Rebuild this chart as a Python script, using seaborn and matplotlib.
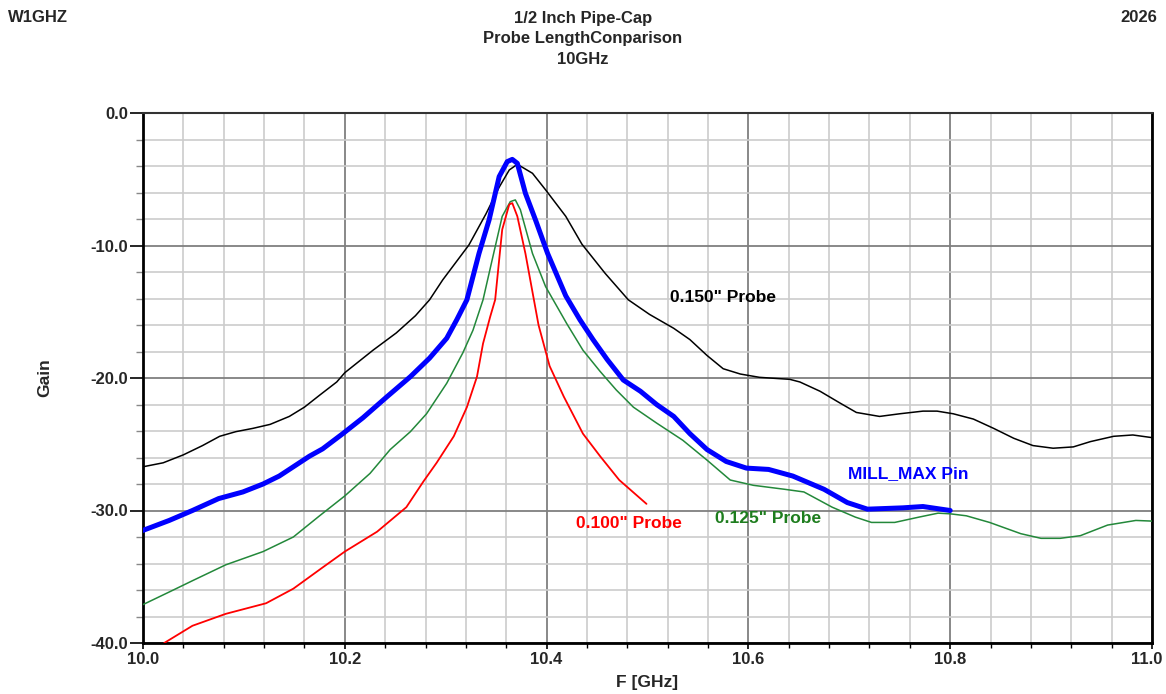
import numpy as np
import pandas as pd
import matplotlib
matplotlib.use("Agg")
import matplotlib.pyplot as plt
import matplotlib.transforms as mtransforms
from matplotlib.ticker import MultipleLocator, FormatStrFormatter
import seaborn as sns

# ── Data ────────────────────────────────────────────────
probe_150_f = [10.0, 10.02, 10.04, 10.059, 10.076, 10.092, 10.109, 10.126, 10.145,
               10.16, 10.175, 10.192, 10.2, 10.228, 10.251, 10.27, 10.284, 10.297,
               10.323, 10.34, 10.353, 10.363, 10.371, 10.386, 10.399, 10.419, 10.435,
               10.458, 10.481, 10.502, 10.526, 10.542, 10.559, 10.575, 10.592, 10.611,
               10.641, 10.651, 10.671, 10.691, 10.707, 10.73, 10.75, 10.773, 10.787,
               10.803, 10.823, 10.843, 10.863, 10.882, 10.902, 10.922, 10.939, 10.962,
               10.981, 11.0]
probe_150_g = [-26.7, -26.4, -25.8, -25.1, -24.4, -24.05, -23.8, -23.5, -22.9,
               -22.2, -21.3, -20.3, -19.6, -17.9, -16.6, -15.3, -14.1, -12.6,
               -9.96, -7.6, -5.6, -4.3, -3.87, -4.55, -5.8, -7.8, -9.9,
               -12.1, -14.1, -15.2, -16.25, -17.1, -18.3, -19.3, -19.7, -19.95,
               -20.1, -20.3, -21.0, -21.9, -22.6, -22.9, -22.7, -22.5, -22.5,
               -22.7, -23.1, -23.8, -24.55, -25.1, -25.3, -25.2, -24.8, -24.4,
               -24.3, -24.5]

millmax_f = [10.0, 10.026, 10.049, 10.075, 10.099, 10.119, 10.135, 10.149, 10.165,
             10.178, 10.198, 10.218, 10.242, 10.265, 10.284, 10.301, 10.311, 10.321,
             10.333, 10.343, 10.353, 10.361, 10.366, 10.371, 10.379, 10.389, 10.401,
             10.419, 10.433, 10.446, 10.46, 10.476, 10.493, 10.509, 10.526, 10.542,
             10.559, 10.578, 10.598, 10.62, 10.644, 10.675, 10.698, 10.718, 10.753,
             10.773, 10.8]
millmax_g = [-31.5, -30.75, -30.0, -29.1, -28.6, -28.0, -27.4, -26.7, -25.9,
             -25.35, -24.2, -23.0, -21.4, -19.9, -18.5, -17.0, -15.6, -14.1,
             -10.6, -8.07, -4.8, -3.67, -3.5, -3.8, -6.06, -8.07, -10.6,
             -13.8, -15.6, -17.1, -18.6, -20.15, -21.0, -22.0, -22.9, -24.2,
             -25.4, -26.3, -26.8, -26.9, -27.4, -28.4, -29.4, -29.9, -29.8,
             -29.7, -30.0]

probe_125_f = [10.0, 10.026, 10.049, 10.082, 10.119, 10.149, 10.175, 10.2, 10.225,
               10.245, 10.265, 10.281, 10.301, 10.317, 10.327, 10.337, 10.346, 10.356,
               10.364, 10.369, 10.374, 10.386, 10.399, 10.42, 10.436, 10.453, 10.469,
               10.486, 10.509, 10.535, 10.559, 10.582, 10.605, 10.636, 10.655, 10.683,
               10.706, 10.722, 10.745, 10.769, 10.788, 10.8, 10.816, 10.839, 10.87,
               10.89, 10.909, 10.929, 10.956, 10.984, 11.0]
probe_125_g = [-37.1, -36.15, -35.3, -34.1, -33.1, -32.0, -30.4, -28.9, -27.2,
               -25.4, -24.05, -22.7, -20.4, -18.1, -16.4, -14.1, -11.1, -7.8,
               -6.69, -6.56, -7.3, -10.6, -13.1, -15.9, -17.9, -19.5, -20.9,
               -22.2, -23.4, -24.7, -26.2, -27.7, -28.1, -28.4, -28.6, -29.75,
               -30.5, -30.9, -30.9, -30.5, -30.2, -30.25, -30.4, -30.9, -31.75,
               -32.1, -32.1, -31.9, -31.1, -30.75, -30.8]

probe_100_f = [10.021, 10.049, 10.082, 10.122, 10.149, 10.178, 10.2, 10.232, 10.261,
               10.278, 10.291, 10.308, 10.321, 10.331, 10.337, 10.344, 10.349, 10.356,
               10.363, 10.366, 10.371, 10.379, 10.392, 10.403, 10.417, 10.436, 10.453,
               10.472, 10.499]
probe_100_g = [-40.0, -38.7, -37.8, -37.0, -35.9, -34.3, -33.1, -31.6, -29.75,
               -27.8, -26.4, -24.4, -22.2, -19.9, -17.4, -15.4, -14.1, -8.8,
               -6.9, -6.8, -7.8, -10.6, -16.0, -19.1, -21.4, -24.2, -25.9,
               -27.7, -29.5]

series_names = ['0.150" Probe', 'MILL_MAX Pin', '0.125" Probe', '0.100" Probe']
series_colors = ["black", "#0000ff", "#23883a", "#ff0000"]
series_widths = [1.1, 3.6, 1.1, 1.3]
label_pos = [(10.522, -13.96), (10.699, -27.25), (10.567, -30.6), (10.429, -31.0)]
label_colors = ["black", "#0000ff", "#1e7d1e", "#ff0000"]
# ────────────────────────────────────────────────────────

sns.set_style("white")
plt.rcParams["font.family"] = ["Liberation Sans", "DejaVu Sans"]

fig = plt.figure(figsize=(11.66, 6.94), dpi=100)
ax = fig.add_axes([143 / 1166, 1 - 643 / 694, 1009 / 1166, 530 / 694])

curves = [(probe_150_f, probe_150_g), (millmax_f, millmax_g),
          (probe_125_f, probe_125_g), (probe_100_f, probe_100_g)]
for (f, g), name, col, lw in zip(curves, series_names, series_colors, series_widths):
    df = pd.DataFrame({"F": f, "Gain": g})
    sns.lineplot(data=df, x="F", y="Gain", color=col, lw=lw, ax=ax,
                 sort=False, estimator=None, zorder=3)

for name, (x, y), col in zip(series_names, label_pos, label_colors):
    ax.text(x, y, name, color=col, fontsize=12.5, fontweight="bold",
            ha="left", va="center", zorder=4)

ax.set_xlim(10.0, 11.0)
ax.set_ylim(-40, 0)
ax.xaxis.set_major_locator(MultipleLocator(0.2))
ax.xaxis.set_minor_locator(MultipleLocator(0.04))
ax.yaxis.set_major_locator(MultipleLocator(10))
ax.yaxis.set_minor_locator(MultipleLocator(2))
ax.xaxis.set_major_formatter(FormatStrFormatter("%.1f"))
ax.yaxis.set_major_formatter(FormatStrFormatter("%.1f"))

ax.grid(which="minor", color="#cccccc", lw=1.2, zorder=0)
ax.grid(which="major", color="#7f7f7f", lw=1.3, zorder=1)
ax.set_axisbelow(True)

ax.tick_params(axis="y", which="major", direction="out", length=9.5, width=1.2,
               color="black", labelsize=12, pad=1, left=True)
ax.tick_params(axis="y", which="minor", direction="out", length=5, width=1,
               color="#888888", left=True)
ax.tick_params(axis="x", which="major", direction="out", length=4.5, width=1.2,
               color="black", labelsize=12, pad=2, bottom=True)
ax.tick_params(axis="x", which="minor", direction="out", length=3.5, width=1,
               color="black", bottom=True)

for side in ["left", "bottom", "right"]:
    ax.spines[side].set_color("black")
    ax.spines[side].set_linewidth(2)
ax.spines["top"].set_color("#333333")
ax.spines["top"].set_linewidth(1.5)

ax.set_xlabel("")
ax.set_ylabel("")
fig.text(45 / 1166, 1 - 378 / 694, "Gain", rotation=90, fontsize=12.5,
         fontweight="bold", ha="center", va="center")
fig.text(647 / 1166, 1 - 683 / 694, "F [GHz]", fontsize=12.5,
         fontweight="bold", ha="center", va="center")

fig.text(583 / 1166, 1 - 19 / 694, "1/2 Inch Pipe-Cap", fontsize=12,
         fontweight="bold", ha="center", va="center")
fig.text(583 / 1166, 1 - 39 / 694, "Probe LengthConparison", fontsize=12,
         fontweight="bold", ha="center", va="center")
fig.text(583 / 1166, 1 - 59 / 694, "10GHz", fontsize=12,
         fontweight="bold", ha="center", va="center")
fig.text(8 / 1166, 1 - 18 / 694, "W1GHZ", fontsize=12,
         fontweight="bold", ha="left", va="center")
fig.text(1157 / 1166, 1 - 18 / 694, "2026", fontsize=12,
         fontweight="bold", ha="right", va="center")

# bold tick labels; nudge the 11.0 label in from the figure edge
fig.canvas.draw()
for lab in ax.get_xticklabels() + ax.get_yticklabels():
    lab.set_fontweight("bold")
for tick in ax.xaxis.get_major_ticks():
    if abs(tick.get_loc() - 11.0) < 1e-6:
        tick.label1.set_transform(tick.label1.get_transform() +
                                  mtransforms.ScaledTranslation(-5 / 100, 0, fig.dpi_scale_trans))

fig.savefig("out.png", dpi=100)
plt.close(fig)
